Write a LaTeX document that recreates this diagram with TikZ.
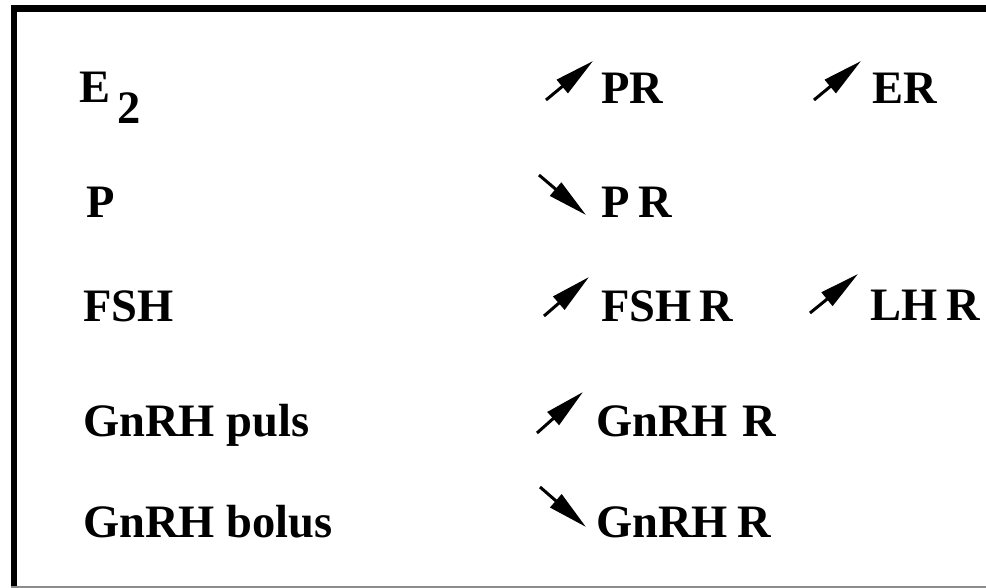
\documentclass[tikz,border=0pt]{standalone}
\usepackage{fontspec}
\setmainfont{Liberation Serif}
\usetikzlibrary{arrows.meta}
\tikzset{
  lbl/.style={anchor=base west, inner sep=0pt, outer sep=0pt, font=\fontsize{46.5}{50}\selectfont\bfseries},
  chg/.style={line width=3pt, -{Triangle[length=40pt,width=17pt]}},
  frm/.style={line width=6.5pt, black},
}
\begin{document}
\begin{tikzpicture}[x=1pt,y=-1pt]
\useasboundingbox (0,0) rectangle (986,588);
% frame
\coordinate (fbl) at (14,588);
\coordinate (ftl) at (14,8.5);
\coordinate (ftr) at (986,8.5);
\coordinate (bl) at (11,586.8);
\coordinate (br) at (986,586.8);
\draw[frm] (fbl) -- (ftl);
\draw[frm] (10.75,8.5) -- (ftr);
\draw[line width=1.4pt, black!45] (bl) -- (br);
% left column
\node[lbl] (e2) at (79,103) {E\,\raisebox{-21pt}{2}};
\node[lbl] (p) at (86,218) {P};
\node[lbl] (fsh) at (83,321) {FSH};
\node[lbl] (gpuls) at (83,436) {GnRH puls};
\node[lbl] (gbolus) at (83,537) {GnRH bolus};
% right columns
\node[lbl] (pr) at (601,104) {PR};
\node[lbl] (er) at (872,104) {ER};
\node[lbl] (pr2) at (601,218) {P\hspace{9pt}R};
\node[lbl] (fshr) at (601,321) {FSH\hspace{8pt}R};
\node[lbl] (lhr) at (870,320) {LH\hspace{9pt}R};
\node[lbl] (gr1) at (596,436) {GnRH\hspace{15pt}R};
\node[lbl] (gr2) at (596,537) {GnRH\hspace{10pt}R};
% arrows
\coordinate (a1s) at (546,100); \coordinate (a1e) at (593,61);
\coordinate (a2s) at (814,100); \coordinate (a2e) at (861,61);
\coordinate (a3s) at (539,175); \coordinate (a3e) at (586,215);
\coordinate (a4s) at (544,316); \coordinate (a4e) at (589,277);
\coordinate (a5s) at (810,313); \coordinate (a5e) at (858,274);
\coordinate (a6s) at (537,433); \coordinate (a6e) at (583,392);
\coordinate (a7s) at (540,487); \coordinate (a7e) at (586,527);
\draw[chg] (a1s) -- (a1e);
\draw[chg] (a2s) -- (a2e);
\draw[chg] (a3s) -- (a3e);
\draw[chg] (a4s) -- (a4e);
\draw[chg] (a5s) -- (a5e);
\draw[chg] (a6s) -- (a6e);
\draw[chg] (a7s) -- (a7e);
\end{tikzpicture}
\end{document}
